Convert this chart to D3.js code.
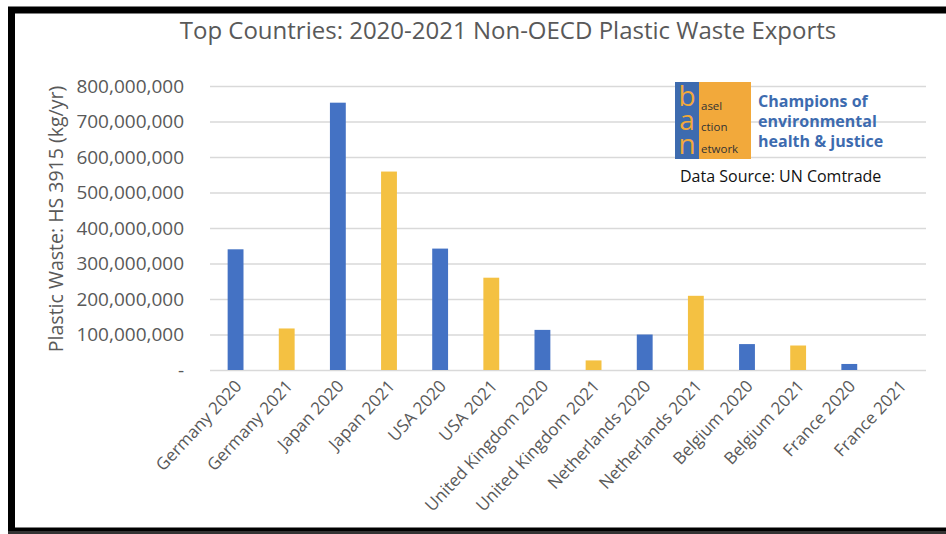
<!DOCTYPE html>
<html>
<head>
<meta charset="utf-8">
<script src="https://cdn.jsdelivr.net/npm/d3@7"></script>
<style>
  html, body { margin: 0; padding: 0; background: #fff; }
  svg { display: block; }
  text { font-family: "Open Sans", "Noto Sans", sans-serif; }
</style>
</head>
<body>
<svg id="chart" width="946" height="534"></svg>
<script>
// Plastic waste exports to non-OECD countries, kg per year (HS 3915)
const categories = [
  "Germany 2020", "Germany 2021", "Japan 2020", "Japan 2021",
  "USA 2020", "USA 2021", "United Kingdom 2020", "United Kingdom 2021",
  "Netherlands 2020", "Netherlands 2021", "Belgium 2020", "Belgium 2021",
  "France 2020", "France 2021"
];
const values = [
  340000000, 117000000, 753000000, 559000000,
  342000000, 260000000, 113000000, 27000000,
  100000000, 209000000, 73000000, 69000000,
  17000000, 0
];
const years = ["2020", "2021", "2020", "2021", "2020", "2021", "2020", "2021",
               "2020", "2021", "2020", "2021", "2020", "2021"];
const yTicks = [0, 100000000, 200000000, 300000000, 400000000,
                500000000, 600000000, 700000000, 800000000];

const yearColor = { "2020": "#4472C4", "2021": "#F4C142" };

const svg = d3.select("#chart");

// outer frame
svg.append("rect")
  .attr("x", 11.5).attr("y", 10).attr("width", 960).attr("height", 521)
  .attr("fill", "#fff").attr("stroke", "#000").attr("stroke-width", 7);
svg.append("line")
  .attr("x1", 8).attr("x2", 946).attr("y1", 532.5).attr("y2", 532.5)
  .attr("stroke", "#333").attr("stroke-width", 3);

const plot = { left: 210, right: 926, top: 86, bottom: 370 };

const x = d3.scaleBand()
  .domain(categories)
  .range([plot.left, plot.right])
  .paddingInner(0.69)
  .paddingOuter(0.345);

const y = d3.scaleLinear()
  .domain([0, 800000000])
  .range([plot.bottom, plot.top]);

// title
svg.append("text")
  .attr("x", 508).attr("y", 39)
  .attr("text-anchor", "middle")
  .attr("font-size", 24)
  .attr("fill", "#595959")
  .text("Top Countries: 2020-2021 Non-OECD Plastic Waste Exports");

// gridlines and y tick labels via a left axis
const fmt = d3.format(",");
const yAxis = d3.axisLeft(y)
  .tickValues(yTicks)
  .tickSize(-(plot.right - plot.left))
  .tickPadding(26)
  .tickFormat(d => d === 0 ? "-" : fmt(d));

const yG = svg.append("g")
  .attr("transform", `translate(${plot.left},0)`)
  .call(yAxis);
yG.select(".domain").remove();
yG.selectAll(".tick line").attr("stroke", "#d9d9d9").attr("stroke-width", 1.3);
yG.selectAll(".tick text")
  .attr("font-size", 19)
  .attr("fill", "#595959")
  .attr("font-family", "\"Open Sans\", sans-serif");

// y axis title
svg.append("text")
  .attr("transform", "translate(63,219) rotate(-90)")
  .attr("text-anchor", "middle")
  .attr("font-size", 19.5)
  .attr("fill", "#595959")
  .text("Plastic Waste: HS 3915 (kg/yr)");

// bars
svg.append("g").selectAll("rect")
  .data(categories)
  .join("rect")
  .attr("x", (d) => x(d))
  .attr("width", x.bandwidth())
  .attr("y", (d, i) => y(values[i]))
  .attr("height", (d, i) => y(0) - y(values[i]))
  .attr("fill", (d, i) => yearColor[years[i]]);

// category labels along the x axis
const xAxis = d3.axisBottom(x).tickSize(0).tickPadding(0);
const xG = svg.append("g")
  .attr("transform", `translate(0,${plot.bottom})`)
  .call(xAxis);
xG.select(".domain").remove();
xG.selectAll(".tick text")
  .attr("font-size", 17)
  .attr("fill", "#595959")
  .attr("font-family", "\"Open Sans\", sans-serif")
  .attr("text-anchor", "end")
  .attr("dy", null)
  .attr("y", 0)
  .attr("transform", "translate(7,17) rotate(-47)");

// Basel Action Network badge
const logo = svg.append("g");
logo.append("rect")
  .attr("x", 675).attr("y", 82).attr("width", 76).attr("height", 77)
  .attr("fill", "#F2A93B");
logo.append("rect")
  .attr("x", 675).attr("y", 82).attr("width", 24).attr("height", 77)
  .attr("fill", "#3D6BAF");
// stacked initials b / a / n down the blue strip
[["b", 106], ["a", 130], ["n", 154]].forEach(([ch, yy]) => {
  logo.append("text")
    .attr("x", 687).attr("y", yy)
    .attr("text-anchor", "middle")
    .attr("font-size", 28)
    .attr("font-family", "\"Liberation Sans\", Arial, sans-serif")
    .attr("fill", "#F2A93B")
    .text(ch);
});
const words = [["asel", 110], ["ction", 131], ["etwork", 153]];
words.forEach(([w, yy]) => {
  logo.append("text")
    .attr("x", 701).attr("y", yy)
    .attr("font-size", 11.5)
    .attr("font-family", "\"Liberation Sans\", Arial, sans-serif")
    .attr("fill", "#333")
    .text(w);
});
const slogan = ["Champions of", "environmental", "health & justice"];
slogan.forEach((s, i) => {
  svg.append("text")
    .attr("x", 758).attr("y", 107 + i * 20)
    .attr("font-size", 16)
    .attr("font-weight", "bold")
    .attr("font-family", "\"Liberation Sans\", Arial, sans-serif")
    .attr("fill", "#3D6BAF")
    .text(s);
});
svg.append("text")
  .attr("x", 680).attr("y", 182)
  .attr("font-size", 16)
  .attr("fill", "#111")
  .text("Data Source: UN Comtrade");
</script>
</body>
</html>
